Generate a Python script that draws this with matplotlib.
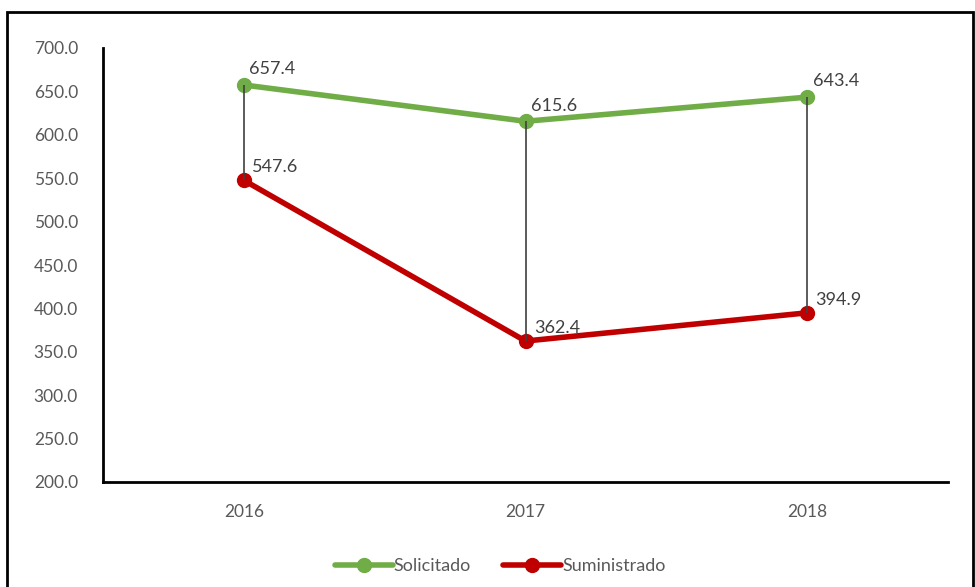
import matplotlib.pyplot as plt
from matplotlib.patches import Rectangle

years = ["2016", "2017", "2018"]
solicitado = [657.4, 615.6, 643.4]
suministrado = [547.6, 362.4, 394.9]

plt.rcParams['font.family'] = ['Lato', 'DejaVu Sans']

fig = plt.figure(figsize=(9.75, 5.87), dpi=100)
ax = fig.add_axes([103 / 975, 1 - 482 / 587, 845 / 975, 434 / 587])

x = list(range(len(years)))
green = "#70AD47"
red = "#C00000"

ax.plot(x, solicitado, color=green, lw=4, marker="o", ms=10, label="Solicitado",
        zorder=3, solid_capstyle="round")
ax.plot(x, suministrado, color=red, lw=4, marker="o", ms=10, label="Suministrado",
        zorder=3, solid_capstyle="round")

# high-low lines
ax.vlines(x, suministrado, solicitado, color="#404040", lw=1.2, zorder=4)

for xi, v in zip(x, solicitado):
    ax.annotate(f"{v:.1f}", (xi, v), xytext=(4, 5.5), textcoords="offset points",
                fontsize=13, color="#404040", ha="left", va="bottom")
for xi, v in zip(x, suministrado):
    ax.annotate(f"{v:.1f}", (xi, v), xytext=(6, 3.5), textcoords="offset points",
                fontsize=13, color="#404040", ha="left", va="bottom")

ax.set_xlim(-0.5, 2.5)
ax.set_ylim(200, 700)
ax.set_yticks(range(200, 701, 50))
ax.set_yticklabels([f"{t:.1f}" for t in range(200, 701, 50)])
ax.set_xticks(x)
ax.set_xticklabels(years)
ax.tick_params(length=0, labelsize=12.5, labelcolor="#595959")
ax.tick_params(axis="x", pad=16)
ax.tick_params(axis="y", pad=18)

for s in ["top", "right"]:
    ax.spines[s].set_visible(False)
for s in ["left", "bottom"]:
    ax.spines[s].set_linewidth(2)
    ax.spines[s].set_color("black")

ax.legend(loc="lower center", bbox_to_anchor=(0.47, -0.25), ncol=2, frameon=False,
          fontsize=13, labelcolor="#595959", handlelength=3.2, columnspacing=1.8,
          handletextpad=0.05)

# outer border
fig.patches.append(Rectangle((7 / 975, -0.05), 966 / 975, 1 - 12 / 587 + 0.05,
                             transform=fig.transFigure, fill=False, lw=2,
                             edgecolor="black"))

fig.savefig("out.png", dpi=100)
